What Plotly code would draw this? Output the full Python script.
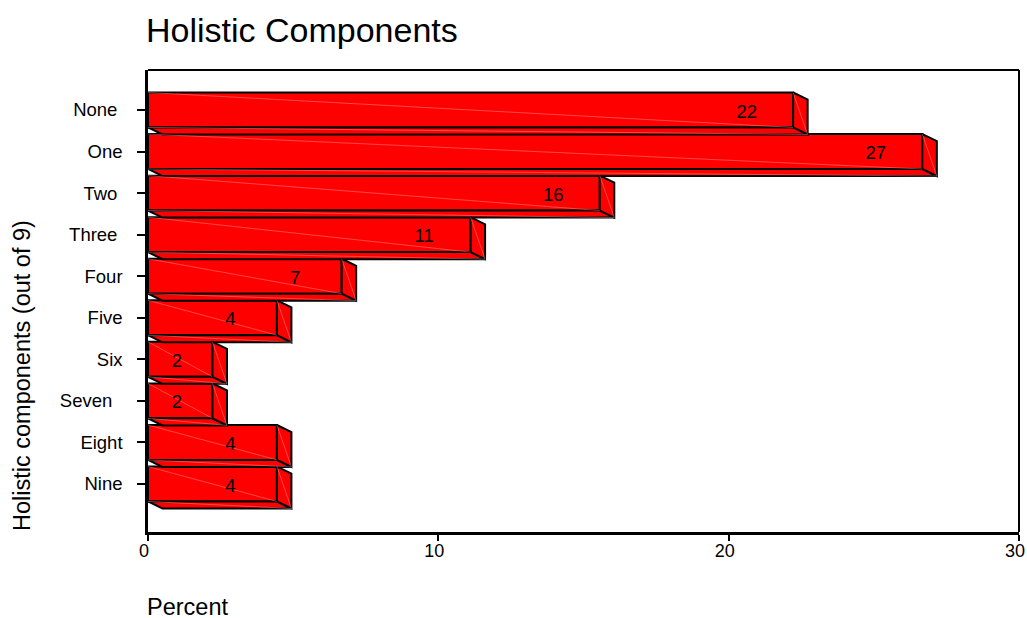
import plotly.graph_objects as go

# Share of respondents (%) by number of holistic components present (out of 9)
categories = ["None", "One", "Two", "Three", "Four", "Five", "Six", "Seven", "Eight", "Nine"]
tick_labels = ["None\u00a0", "One", "Two\u00a0", "Three\u00a0", "Four", "Five", "Six",
               "Seven\u00a0\u00a0", "Eight", "Nine"]
percent = [22.22, 26.67, 15.56, 11.11, 6.67, 4.44, 2.22, 2.22, 4.44, 4.44]
x_ticks = [0, 10, 20, 30]

FONT = "Liberation Sans, Arial, sans-serif"
RED = "#ff0000"
EDGE = "#000000"

# geometry of the pseudo-3D bars, in axis units
bar_w = 0.84      # thickness of the front face (category units)
depth_x = 0.5     # receding depth along x (percent units)
depth_y = 0.17    # receding depth along y (category units)

pos = list(range(len(categories)))

side_x, side_y = [], []
bottom_x, bottom_y = [], []
diag_x, diag_y = [], []
for p, v in zip(pos, percent):
    top = p - bar_w / 2
    bot = p + bar_w / 2
    # right-hand side face
    side_x += [v, v + depth_x, v + depth_x, v, v, None]
    side_y += [top, top + depth_y, bot + depth_y, bot, top, None]
    # underside face
    bottom_x += [0, v, v + depth_x, depth_x, 0, None]
    bottom_y += [bot, bot, bot + depth_y, bot + depth_y, bot, None]
    # faint shading seams across each face
    diag_x += [0, v, None, v, v + depth_x, None, 0, v + depth_x, None]
    diag_y += [top, bot, None, top, bot + depth_y, None, bot, bot + depth_y, None]

# value labels sit inside the front face, just short of its right end
label_x = [max(v - 1.6, 0.45 * v) for v in percent]
label_y = [p + 0.07 for p in pos]
label_text = [f"{v:.0f}" for v in percent]

fig = go.Figure()

fig.add_trace(go.Bar(
    x=percent, y=pos, orientation="h", width=bar_w,
    marker=dict(color=RED, line=dict(color=EDGE, width=2)),
    hoverinfo="skip", showlegend=False,
))
fig.add_trace(go.Scatter(
    x=bottom_x, y=bottom_y, mode="lines", fill="toself", fillcolor=RED,
    line=dict(color=EDGE, width=2), hoverinfo="skip", showlegend=False,
))
fig.add_trace(go.Scatter(
    x=side_x, y=side_y, mode="lines", fill="toself", fillcolor=RED,
    line=dict(color=EDGE, width=2), hoverinfo="skip", showlegend=False,
))
fig.add_trace(go.Scatter(
    x=diag_x, y=diag_y, mode="lines",
    line=dict(color="rgba(255,200,200,0.45)", width=0.8),
    hoverinfo="skip", showlegend=False,
))
fig.add_trace(go.Scatter(
    x=label_x, y=label_y, mode="text", text=label_text,
    textfont=dict(family=FONT, size=18.5, color="#000000"),
    textposition="middle center", hoverinfo="skip", showlegend=False,
))

fig.update_layout(
    width=1027, height=618,
    margin=dict(l=148, r=8, t=70, b=86, autoexpand=False),
    paper_bgcolor="white", plot_bgcolor="white",
    font=dict(family=FONT, color="#000000"),
    title=dict(
        text="Holistic Components",
        font=dict(family=FONT, size=34, color="#000000"),
        xref="container", x=146 / 1027, xanchor="left",
        yref="container", y=1 - 30 / 618, yanchor="middle",
    ),
    xaxis=dict(
        range=[0, 30], tickvals=x_ticks, ticktext=[str(t) for t in x_ticks],
        showgrid=False, zeroline=False, automargin=False,
        showline=True, linecolor=EDGE, linewidth=3,
        ticks="outside", ticklen=6, tickwidth=1.5, tickcolor=EDGE,
        ticklabelshift=-4, ticklabelstandoff=-6, ticklabeloverflow="allow",
        tickfont=dict(family=FONT, size=18, color="#000000"),
    ),
    yaxis=dict(
        range=[10.155, -0.962], tickvals=pos, ticktext=tick_labels,
        showgrid=False, zeroline=False, automargin=False,
        showline=True, linecolor=EDGE, linewidth=2.5,
        ticks="outside", ticklen=8, tickwidth=1.5, tickcolor=EDGE,
        ticklabelstandoff=11,
        tickfont=dict(family=FONT, size=18.5, color="#000000"),
    ),
    shapes=[
        dict(type="line", xref="paper", yref="paper", x0=0, x1=1, y0=1, y1=1,
             line=dict(color=EDGE, width=2)),
        dict(type="line", xref="paper", yref="paper", x0=1, x1=1, y0=0, y1=1,
             line=dict(color=EDGE, width=2)),
    ],
    annotations=[
        dict(text="Percent", xref="paper", yref="paper",
             x=0, xanchor="left", xshift=-3, y=-(607 - 532) / 462, yanchor="middle",
             showarrow=False, font=dict(family=FONT, size=23.5, color="#000000")),
        dict(text="Holistic components (out of 9)", xref="paper", yref="paper",
             x=(22 - 148) / 871, xanchor="center", y=(532 - 376) / 462, yanchor="middle",
             textangle=-90, showarrow=False,
             font=dict(family=FONT, size=23.5, color="#000000")),
    ],
)

fig.write_html("out.html")
